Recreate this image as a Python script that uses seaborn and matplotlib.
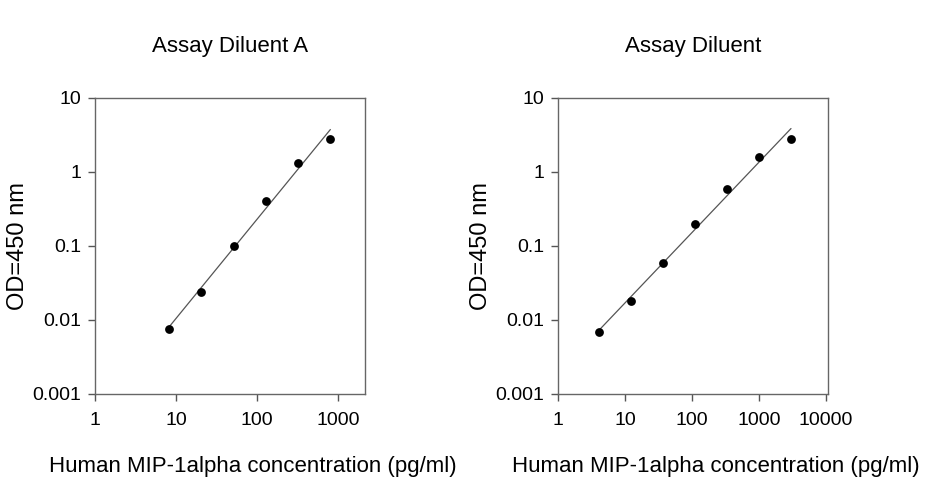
import numpy as np
import pandas as pd
import matplotlib
matplotlib.use("Agg")
import matplotlib.pyplot as plt
import seaborn as sns
from matplotlib.ticker import FixedLocator, FixedFormatter, NullLocator

sns.set_theme(style="white")
plt.rcParams['font.family'] = ['Liberation Sans', 'DejaVu Sans']

# Data
conc_a = [8.19, 20.5, 51.2, 128, 320, 800]
od_a = [0.0075, 0.024, 0.100, 0.40, 1.32, 2.75]
conc_b = [4.12, 12.3, 37.0, 111, 333, 1000, 3000]
od_b = [0.0069, 0.018, 0.058, 0.196, 0.58, 1.58, 2.75]

titles = ["Assay Diluent A", "Assay Diluent"]
xlabel = "Human MIP-1alpha concentration (pg/ml)"
ylabel = "OD=450 nm"
yticks = [0.001, 0.01, 0.1, 1, 10]
ytick_labels = ["0.001", "0.01", "0.1", "1", "10"]
xticks_a = [1, 10, 100, 1000]
xticks_b = [1, 10, 100, 1000, 10000]

fig = plt.figure(figsize=(9.26, 4.8), dpi=100)
W, H = 926, 480

def make_axes(left, right, top, bottom):
    return fig.add_axes([left / W, 1 - bottom / H, (right - left) / W, (bottom - top) / H])

ax1 = make_axes(95, 365, 97.5, 394)
ax2 = make_axes(558, 828, 97.5, 394)

panels = [
    (ax1, conc_a, od_a, xticks_a, (1, 2140), titles[0]),
    (ax2, conc_b, od_b, xticks_b, (1, 10700), titles[1]),
]

for ax, cx, cy, xt, xlim, title in panels:
    df = pd.DataFrame({"conc": cx, "od": cy})
    # log-log linear fit
    p = np.polyfit(np.log10(df["conc"]), np.log10(df["od"]), 1)
    fx = np.array([df["conc"].min(), df["conc"].max()])
    fy = 10 ** np.polyval(p, np.log10(fx))
    fit = pd.DataFrame({"conc": fx, "od": fy})
    ax.set_xscale("log")
    ax.set_yscale("log")
    sns.lineplot(data=fit, x="conc", y="od", ax=ax, color="#555555", linewidth=0.9)
    sns.scatterplot(data=df, x="conc", y="od", ax=ax, color="black", s=40,
                    edgecolor="black", linewidth=0, zorder=3)
    ax.set_xlim(*xlim)
    ax.set_ylim(0.001, 10)
    ax.xaxis.set_major_locator(FixedLocator(xt))
    ax.xaxis.set_major_formatter(FixedFormatter([str(v) for v in xt]))
    ax.yaxis.set_major_locator(FixedLocator(yticks))
    ax.yaxis.set_major_formatter(FixedFormatter(ytick_labels))
    ax.xaxis.set_minor_locator(NullLocator())
    ax.yaxis.set_minor_locator(NullLocator())
    ax.tick_params(axis="both", which="major", direction="out", length=5, width=1,
                   color="#555555", labelsize=14, labelcolor="black",
                   bottom=True, left=True, top=False, right=False)
    ax.tick_params(axis="x", pad=8)
    ax.tick_params(axis="y", pad=5)
    for s in ax.spines.values():
        s.set_visible(True)
        s.set_color("#666666")
        s.set_linewidth(1.0)
    ax.set_xlabel(xlabel, fontsize=16, color="black")
    ax.set_ylabel(ylabel, fontsize=17, color="black")
    ax.xaxis.set_label_coords(0.585, -0.21)
    ax.yaxis.set_label_coords(-0.245, 0.5)
    ax.set_title(title, fontsize=16, color="black", pad=33)
    ax.grid(False)

fig.savefig("out.png", dpi=100, facecolor="white")
